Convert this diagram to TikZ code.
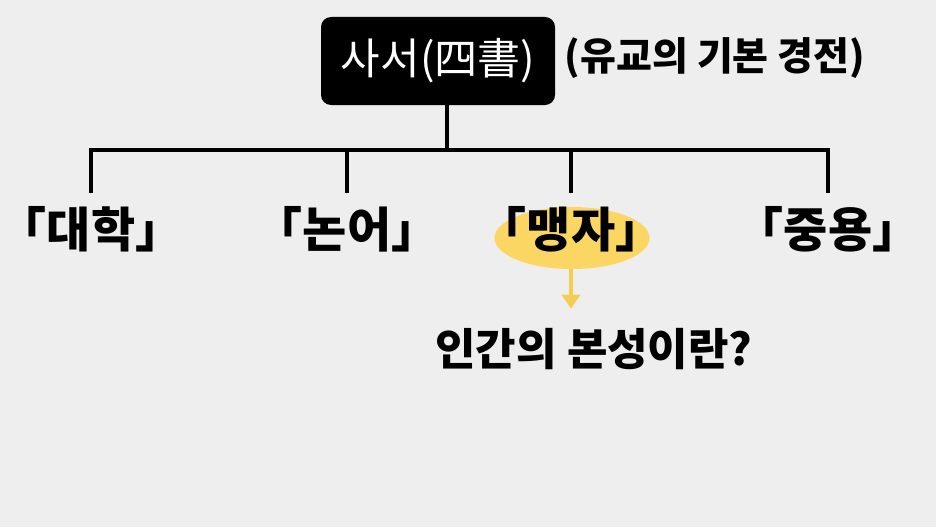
\documentclass[tikz,border=0pt]{standalone}
\usepackage{fontspec}
\newfontfamily\cjk{Noto Sans CJK KR}
\usetikzlibrary{arrows.meta, positioning, shapes.geometric}
\definecolor{pagebg}{RGB}{238,238,238}
\definecolor{hlyellow}{RGB}{252,214,98}
\definecolor{arryellow}{RGB}{247,204,84}

\begin{document}
\begin{tikzpicture}[
  x=1pt, y=-1pt,
  rootbox/.style={fill=black, rounded corners=10pt, minimum width=234pt, minimum height=88pt, text=white, font=\cjk\fontsize{43}{45}\selectfont},
  note/.style={font=\cjk\bfseries\fontsize{39}{41}\selectfont},
  book/.style={anchor=north, inner xsep=0pt, inner ysep=13pt, font=\cjk\bfseries\fontsize{48}{50}\selectfont},
  bar/.style={line width=3.5pt},
  arr/.style={-{Triangle[length=14pt, width=18pt]}, line width=4pt, arryellow, shorten >=16pt}
]
  \fill[pagebg] (0,0) rectangle (936,527);
  \useasboundingbox (0,0) rectangle (936,527);

  \node[rootbox] (root) at (438,61) {사서(四書)};
  \node[note] (note) at (715,58) {(유교의 기본 경전)};

  \node[ellipse, fill=hlyellow, minimum width=155pt, minimum height=62pt] (hl) at (572,238) {};

  \node[book] (daehak) at (91,193) {「대학」};
  \node[book] (noneo) at (347,193) {「논어」};
  \node[book] (maengja) at (571,193) {「맹자」};
  \node[book] (jungyong) at (828,193) {「중용」};

  \node[font=\cjk\bfseries\fontsize{44}{46}\selectfont] (question) at (594,349) {인간의 본성이란?};

  \coordinate (bus) at (447,150);
  \draw[bar] (root.south -| bus) -- (bus);
  \draw[bar] (daehak.north) |- (bus) -| (jungyong.north);
  \draw[bar] (noneo.north) -- (noneo.north |- bus);
  \draw[bar] (maengja.north) -- (maengja.north |- bus);

  \draw[arr] (hl.south -| maengja.north) -- (question.north -| maengja.north);
\end{tikzpicture}
\end{document}
